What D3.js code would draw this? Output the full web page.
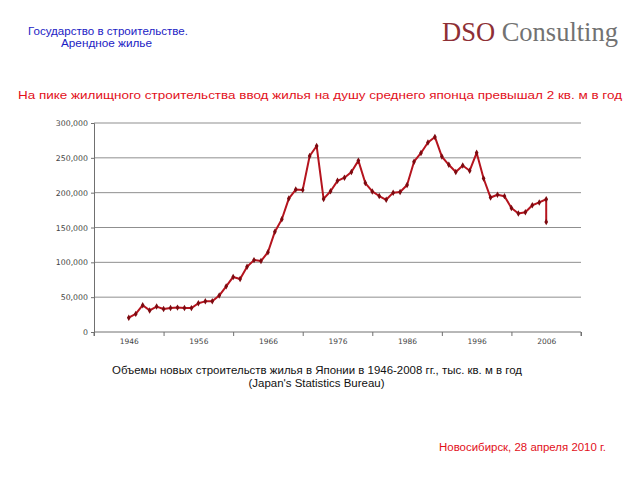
<!DOCTYPE html>
<html>
<head>
<meta charset="utf-8">
<script src="https://cdn.jsdelivr.net/npm/d3@7"></script>
<style>
  html, body { margin: 0; padding: 0; background: #fff; }
  svg { display: block; }
</style>
</head>
<body>
<svg id="chart" width="640" height="480"></svg>
<script>
// ---- data ----
const years = [
  1946, 1947, 1948, 1949, 1950, 1951, 1952, 1953, 1954, 1955,
  1956, 1957, 1958, 1959, 1960, 1961, 1962, 1963, 1964, 1965,
  1966, 1967, 1968, 1969, 1970, 1971, 1972, 1973, 1974, 1975,
  1976, 1977, 1978, 1979, 1980, 1981, 1982, 1983, 1984, 1985,
  1986, 1987, 1988, 1989, 1990, 1991, 1992, 1993, 1994, 1995,
  1996, 1997, 1998, 1999, 2000, 2001, 2002, 2003, 2004, 2005,
  2006, 2006
];
const values = [
  20500, 26000, 38500, 31000, 36500, 33000, 34500, 35000, 34500, 34300,
  41300, 44000, 44000, 52300, 65500, 79000, 76000, 93800, 103200, 101800,
  114500, 144000, 161800, 191500, 204500, 204000, 252600, 267000, 191000, 202000,
  217000, 221500, 229800, 246000, 213800, 201800, 195200, 189800, 200000, 201000,
  211000, 244500, 257000, 272000, 280000, 251800, 240000, 229700, 239000, 231500,
  257200, 220300, 193000, 197000, 195000, 178000, 170000, 172000, 182000, 186000,
  190500, 158000
];
const yTicks = [0, 50000, 100000, 150000, 200000, 250000, 300000];
const xLabelYears = [1946, 1956, 1966, 1976, 1986, 1996, 2006];
const xTickYears = [1941, 1951, 1961, 1971, 1981, 1991, 2001, 2011];

const headerLines = ["Государство в строительстве.", "Арендное жилье"];
const logoParts = ["DSO", "Consulting"];
const headline = "На пике жилищного строительства ввод жилья на душу среднего японца превышал 2 кв. м в год";
const captionLines = ["Объемы новых строительств жилья в Японии в 1946-2008 гг., тыс. кв. м в год", "(Japan's Statistics Bureau)"];
const footer = "Новосибирск, 28 апреля 2010 г.";

// ---- layout ----
const svg = d3.select("#chart");
const plot = { left: 94, right: 581, top: 123, bottom: 332 };

const x = d3.scaleLinear().domain([1941, 2011]).range([plot.left, plot.right]);
const y = d3.scaleLinear().domain([0, 300000]).range([plot.bottom, plot.top]);

function fitText(sel, width) {
  sel.attr("textLength", width).attr("lengthAdjust", "spacingAndGlyphs");
}

// header (blue)
svg.append("text").text(headerLines[0])
  .attr("x", 108).attr("y", 34.5).attr("text-anchor", "middle")
  .attr("font-family", "Liberation Sans, Arial, sans-serif").attr("font-size", 10)
  .attr("fill", "#1c1cc4").call(fitText, 160);
svg.append("text").text(headerLines[1])
  .attr("x", 106.5).attr("y", 46.5).attr("text-anchor", "middle")
  .attr("font-family", "Liberation Sans, Arial, sans-serif").attr("font-size", 10)
  .attr("fill", "#1c1cc4").call(fitText, 91);

// logo
const logo = svg.append("text").attr("x", 442).attr("y", 41)
  .attr("font-family", "Liberation Serif, 'Times New Roman', serif").attr("font-size", 26.5);
logo.append("tspan").text(logoParts[0]).attr("fill", "#8e2f35");
logo.append("tspan").text(" " + logoParts[1]).attr("fill", "#727272");

// headline (red)
svg.append("text").text(headline)
  .attr("x", 18).attr("y", 98.5)
  .attr("font-family", "Liberation Sans, Arial, sans-serif").attr("font-size", 10.5)
  .attr("fill", "#e2101a").call(fitText, 604);

// gridlines
svg.append("g").selectAll("line").data(yTicks.filter(d => d > 0)).join("line")
  .attr("x1", plot.left).attr("x2", plot.right)
  .attr("y1", d => y(d)).attr("y2", d => y(d))
  .attr("stroke", "#8f8f8f").attr("stroke-width", 1);

// y axis
const yAxis = d3.axisLeft(y).tickValues(yTicks).tickSize(3).tickPadding(3)
  .tickFormat(d3.format(","));
const gy = svg.append("g").attr("transform", `translate(${plot.left},0)`).call(yAxis);
gy.select(".domain").attr("stroke", "#707070");
gy.selectAll(".tick line").attr("stroke", "#707070");
gy.selectAll(".tick text").attr("font-family", "DejaVu Sans, Verdana, sans-serif")
  .attr("font-size", 7.8).attr("fill", "#444");

// x axis: tick marks between groups, labels at the years
const xAxisTicks = d3.axisBottom(x).tickValues(xTickYears).tickSize(4).tickFormat("");
const gx = svg.append("g").attr("transform", `translate(0,${plot.bottom})`).call(xAxisTicks);
gx.select(".domain").attr("stroke", "#707070").attr("d", `M${plot.left},4V0H${plot.right}V4`);
gx.selectAll(".tick line").attr("stroke", "#707070");

const xAxisLabels = d3.axisBottom(x).tickValues(xLabelYears).tickSize(0).tickPadding(7)
  .tickFormat(d3.format("d"));
const gxl = svg.append("g").attr("transform", `translate(0,${plot.bottom})`).call(xAxisLabels);
gxl.select(".domain").remove();
gxl.selectAll(".tick text").attr("font-family", "DejaVu Sans, Verdana, sans-serif")
  .attr("font-size", 7.5).attr("fill", "#444");

// line series
const pts = years.map((yr, i) => ({ yr, v: values[i] }));
const line = d3.line().x(d => x(d.yr)).y(d => y(d.v));
svg.append("path").datum(pts).attr("d", line)
  .attr("fill", "none").attr("stroke", "#b5141e").attr("stroke-width", 2)
  .attr("stroke-linejoin", "round");
svg.append("g").selectAll("path").data(pts).join("path")
  .attr("d", d3.symbol().type(d3.symbolDiamond).size(12))
  .attr("transform", d => `translate(${x(d.yr)},${y(d.v)})`)
  .attr("fill", "#7d0a10");

// caption
svg.append("text").text(captionLines[0])
  .attr("x", 112).attr("y", 374)
  .attr("font-family", "Liberation Sans, Arial, sans-serif").attr("font-size", 10)
  .attr("fill", "#111").call(fitText, 410);
svg.append("text").text(captionLines[1])
  .attr("x", 316.5).attr("y", 387).attr("text-anchor", "middle")
  .attr("font-family", "Liberation Sans, Arial, sans-serif").attr("font-size", 10)
  .attr("fill", "#111").call(fitText, 136);

// footer
svg.append("text").text(footer)
  .attr("x", 439).attr("y", 451)
  .attr("font-family", "Liberation Sans, Arial, sans-serif").attr("font-size", 10)
  .attr("fill", "#e2101a").call(fitText, 167);
</script>
</body>
</html>
